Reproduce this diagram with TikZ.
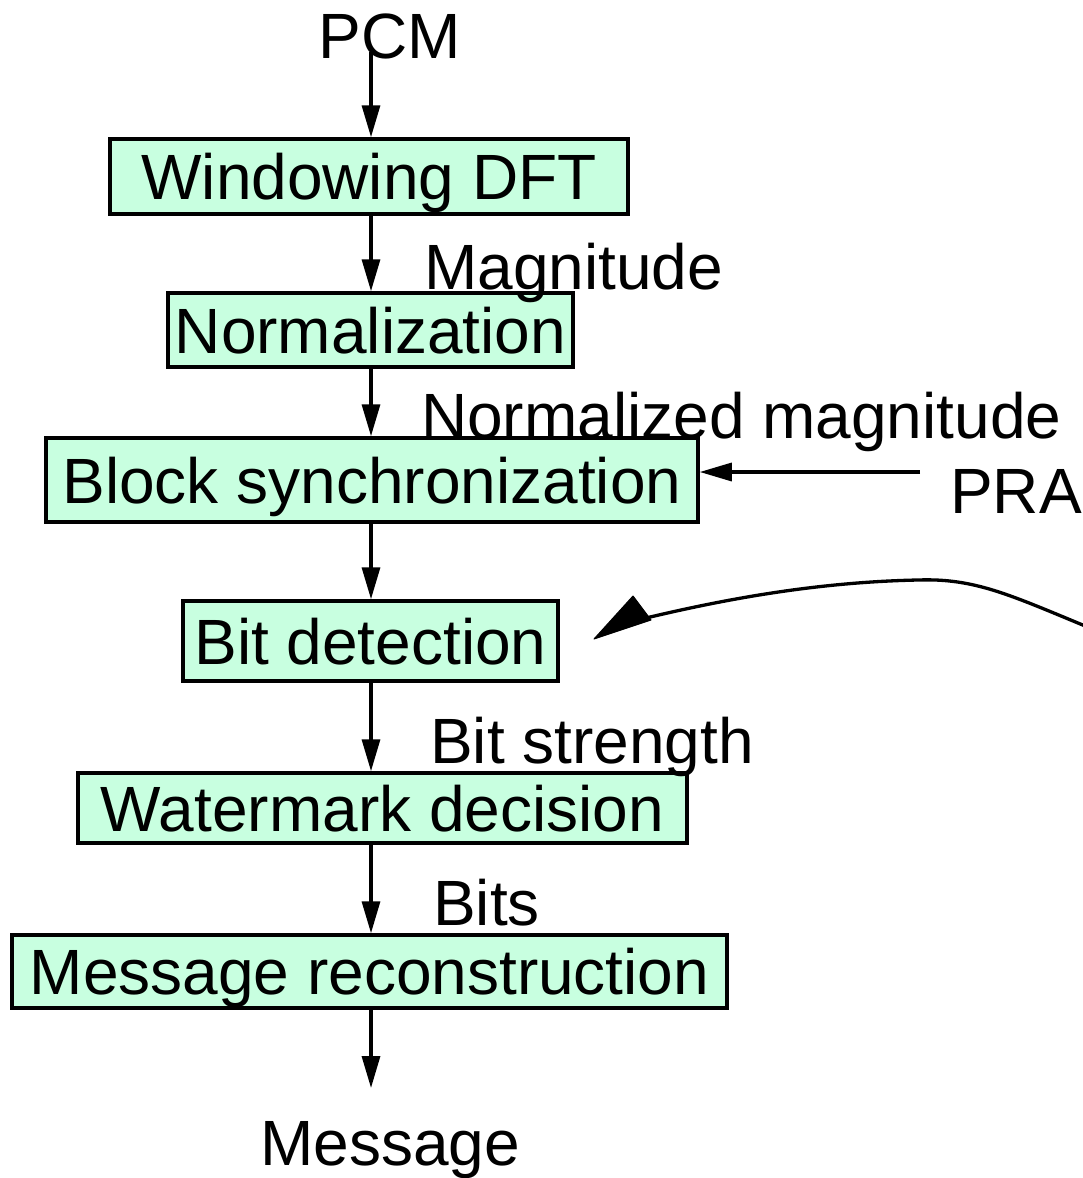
\documentclass[tikz,border=0pt]{standalone}
\usepackage{fontspec}
\setmainfont{Liberation Sans}
\usetikzlibrary{arrows.meta}
\definecolor{boxfill}{RGB}{200,255,224}
\begin{document}
\begin{tikzpicture}[x=1pt,y=-1pt,
  every node/.style={font=\fontsize{64}{76}\selectfont},
  stage/.style={draw=black,line width=3.5pt,fill=boxfill,inner sep=0pt,
     text height=46pt,text depth=0pt,align=center},
  lbl/.style={inner sep=0pt,anchor=base west},
  arr/.style={line width=3.3pt,-{Triangle[length=32pt,width=18pt]}}]
\useasboundingbox (0,0) rectangle (1082,1178);
\coordinate (col) at (371,0);
% boxes
\node[stage,minimum width=518pt,minimum height=75pt] (win) at (369,176.5) {Windowing DFT};
\node[stage,minimum width=405pt,minimum height=74pt] (norm) at (370.5,330) {Normalization};
\node[stage,minimum width=652pt,minimum height=84pt] (blk) at (372,480) {Block synchronization};
\node[stage,minimum width=375pt,minimum height=80pt] (bit) at (370.5,641) {Bit detection};
\node[stage,minimum width=609pt,minimum height=70pt] (wm) at (382.5,808) {Watermark decision};
\node[stage,minimum width=715pt,minimum height=73pt] (msg) at (369.5,971.5) {Message reconstruction};
% labels
\node[inner sep=0pt,anchor=base] (pcm) at (390,58) {PCM};
\node[inner sep=0pt,anchor=base] (message) at (390,1165) {Message};
\node[lbl] (lmag) at (424,289) {Magnitude};
\node[lbl] (lnmag) at (421,438) {Normalized magnitude};
\node[lbl] (lbs) at (430,763) {Bit strength};
\node[lbl] (lbits) at (433,925) {Bits};
\node[lbl] (pra) at (950,513) {PRA};
% vertical connectors
\coordinate (pcmout) at (371,52);
\coordinate (msgin) at (371,1088);
\draw[arr] (pcmout) -- (win.north -| col);
\draw[arr] (win.south -| col) -- (norm.north -| col);
\draw[arr] (norm.south -| col) -- (blk.north -| col);
\draw[arr] (blk.south -| col) -- (bit.north -| col);
\draw[arr] (bit.south -| col) -- (wm.north -| col);
\draw[arr] (wm.south -| col) -- (msg.north -| col);
\draw[arr] (msg.south -| col) -- (msgin);
% PRA connector
\coordinate (prastart) at (920,472);
\draw[arr] (prastart) -- (prastart -| blk.east);
% curved connector from the right
\coordinate (cstart) at (1090,628);
\coordinate (ctop) at (918,580);
\coordinate (cend) at (646,618);
\coordinate (tip) at (594,639);
\coordinate (tipa) at (633,596);
\coordinate (tipb) at (651,620);
\draw[line width=3.3pt] (cstart) .. controls (1010,595) and (975,578) .. (ctop)
  .. controls (820,582) and (730,598) .. (cend);
\fill[line join=round,line width=1pt,draw] (tip) -- (tipa) -- (tipb) -- cycle;
\end{tikzpicture}
\end{document}
